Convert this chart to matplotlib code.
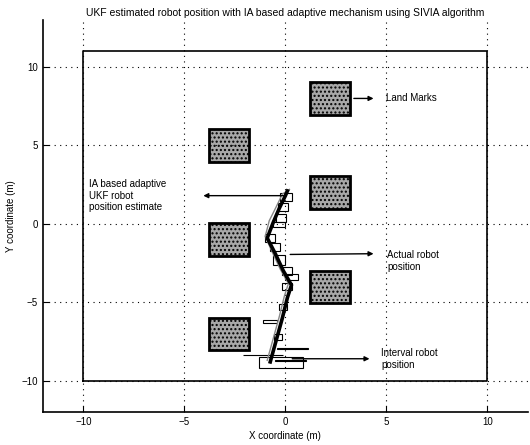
import matplotlib
matplotlib.use("Agg")
import matplotlib.pyplot as plt
from matplotlib.patches import Rectangle

plt.rcParams['font.family'] = ['Liberation Sans', 'DejaVu Sans']

# Landmarks (centres) and size
lm_x = [2.2, -2.8, 2.2, -2.8, 2.2, -2.8]
lm_y = [8.0, 5.0, 2.0, -1.0, -4.0, -7.0]
lm_w = 2.0
lm_h = 2.05

# Environment boundary
env_x = [-10, 10, 10, -10, -10]
env_y = [-10, -10, 11, 11, -10]

# IA based adaptive UKF estimate (thick)
est_x = [-0.75, -0.45, -0.15, 0.1, 0.3, -0.1, -0.5, -0.9, -0.6, -0.3, 0.0, 0.1]
est_y = [-8.8, -7.4, -6.0, -4.7, -3.9, -3.0, -1.9, -0.9, 0.1, 1.0, 1.8, 2.1]

# Actual robot position (thin grey)
act_x = [-0.9, -0.6, -0.3, -0.05, 0.15, -0.25, -0.65, -1.0, -0.8, -0.45, -0.15, 0.2]
act_y = [-8.7, -7.3, -5.9, -4.6, -3.8, -2.9, -1.8, -0.8, 0.2, 1.1, 1.9, 2.2]

# Interval robot positions (boxes)
int_xlo = [-0.25, -0.35, -0.45, -0.6, -1.0, -0.75, -0.6, -0.15, 0.0, -0.15, -0.3, -1.1, -0.55, -0.4, -2.1, -1.3, -0.5]
int_xhi = [0.35, 0.15, 0.05, 0.0, -0.5, -0.25, 0.0, 0.35, 0.6, 0.35, 0.1, -0.4, -0.15, 1.1, -0.1, 0.85, 1.0]
int_ylo = [1.45, 0.85, 0.15, -0.2, -1.15, -1.75, -2.6, -3.25, -3.6, -4.2, -5.5, -6.35, -7.4, -7.97, -8.37, -9.2, -8.72]
int_yhi = [2.0, 1.35, 0.65, 0.15, -0.65, -1.25, -2.0, -2.75, -3.2, -3.8, -5.1, -6.1, -7.0, -7.93, -8.33, -8.5, -8.68]

fig = plt.figure(figsize=(5.3, 4.45), dpi=100)
ax = fig.add_axes([0.081, 0.074, 0.915, 0.881])

ax.plot(env_x, env_y, color='black', lw=1.2)

for cx, cy in zip(lm_x, lm_y):
    ax.add_patch(Rectangle((cx - lm_w / 2, cy - lm_h / 2), lm_w, lm_h,
                           facecolor='#a8a8a8', edgecolor='black', lw=2.0, hatch='....'))

for xl, xh, yl, yh in zip(int_xlo, int_xhi, int_ylo, int_yhi):
    ax.add_patch(Rectangle((xl, yl), xh - xl, yh - yl, facecolor='none',
                           edgecolor='black', lw=0.8))

ax.plot(act_x, act_y, color='#888888', lw=1.0)
ax.plot(est_x, est_y, color='black', lw=2.6)

fs = 7
arrow = dict(arrowstyle='-|>', color='black', lw=1.0, mutation_scale=7)
ax.annotate('', xy=(4.5, 8.0), xytext=(3.25, 8.0), arrowprops=arrow)
ax.text(5.0, 8.0, 'Land Marks', fontsize=fs, va='center', ha='left')

ax.annotate('', xy=(-4.2, 1.8), xytext=(0.15, 1.8), arrowprops=arrow)
ax.text(-9.7, 1.8, 'IA based adaptive\nUKF robot\nposition estimate', fontsize=fs,
        va='center', ha='left', linespacing=1.2)

ax.annotate('', xy=(4.5, -1.9), xytext=(0.1, -1.95), arrowprops=arrow)
ax.text(5.05, -2.35, 'Actual robot\nposition', fontsize=fs, va='center', ha='left', linespacing=1.2)

ax.annotate('', xy=(4.3, -8.6), xytext=(0.2, -8.6), arrowprops=arrow)
ax.text(4.75, -8.6, 'Interval robot\nposition', fontsize=fs, va='center', ha='left', linespacing=1.2)

ax.set_xlim(-12, 12)
ax.set_ylim(-12, 13)
ax.set_xticks([-10, -5, 0, 5, 10])
ax.set_yticks([-10, -5, 0, 5, 10])
ax.set_xticklabels(['\u221210', '\u22125', '0', '5', '10'])
ax.set_yticklabels(['\u221210', '\u22125', '0', '5', '10'])
ax.tick_params(direction='in', length=4, labelsize=fs, width=0.8)
ax.grid(True, color='black', linestyle=(0, (1, 4)), lw=0.8)
ax.spines['top'].set_visible(False)
ax.spines['right'].set_visible(False)
ax.spines['left'].set_linewidth(1.2)
ax.spines['bottom'].set_linewidth(1.2)

ax.set_xlabel('X coordinate (m)', fontsize=fs, labelpad=3)
ax.set_ylabel('Y coordinate (m)', fontsize=fs, labelpad=4)
ax.set_title('UKF estimated robot position with IA based adaptive mechanism using SIVIA algorithm',
             fontsize=fs + 0.5, pad=3)

fig.savefig('out.png', dpi=100)
